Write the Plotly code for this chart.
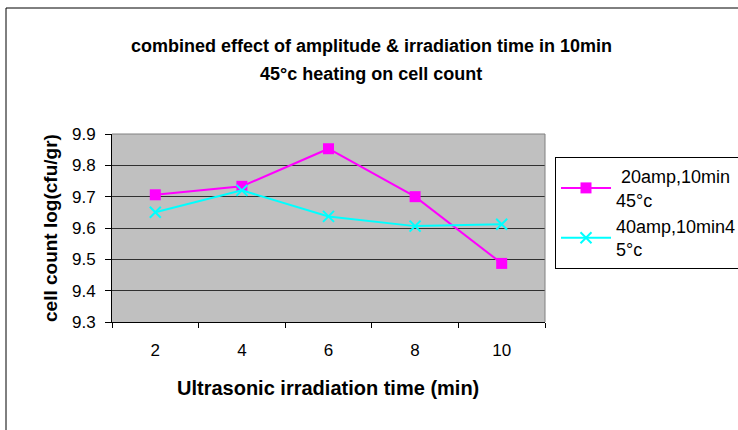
import plotly.graph_objects as go

categories = ["2", "4", "6", "8", "10"]
series_20amp = [9.706, 9.733, 9.853, 9.700, 9.487]
series_40amp = [9.650, 9.720, 9.637, 9.606, 9.612]
name_20amp = " 20amp,10min<br>45°c"
name_40amp = "40amp,10min4<br>5°c"
y_ticks = [9.3, 9.4, 9.5, 9.6, 9.7, 9.8, 9.9]
title_lines = ["combined effect of amplitude &amp; irradiation time in 10min",
               "45°c heating on cell count"]

W, H = 738, 430
L, R, T, B = 112, 545, 134, 322
FONT = "Arial, Liberation Sans, sans-serif"

fig = go.Figure()
fig.add_trace(go.Scatter(
    x=categories, y=series_20amp, name=name_20amp, mode="lines+markers",
    line=dict(color="#FF00FF", width=2),
    marker=dict(symbol="square", size=11, color="#FF00FF"),
))
fig.add_trace(go.Scatter(
    x=categories, y=series_40amp, name=name_40amp, mode="lines+markers",
    line=dict(color="#00FFFF", width=2),
    marker=dict(symbol="x-thin", size=11, line=dict(color="#00FFFF", width=2)),
))

pw, ph = R - L, B - T
def px(x):
    return (x - L) / pw
def py(y):
    return (B - y) / ph

annotations = [
    dict(text="<b>cell count log(cfu/gr)</b>", xref="paper", yref="paper",
         x=px(50), y=py(228), xanchor="center", yanchor="middle",
         textangle=-90, showarrow=False, font=dict(size=19)),
    dict(text="<b>Ultrasonic irradiation time (min)</b>", xref="paper", yref="paper",
         x=px(328), y=py(388), xanchor="center", yanchor="middle",
         showarrow=False, font=dict(size=20)),
]
for i, (line, yy) in enumerate(zip(title_lines, [46, 74])):
    annotations.append(dict(text="<b>" + line + "</b>", xref="paper", yref="paper",
                            x=px(371), y=py(yy), xanchor="center", yanchor="middle",
                            showarrow=False, font=dict(size=18)))

fig.update_layout(
    width=W, height=H,
    margin=dict(l=L, r=W - R, t=T, b=H - B, autoexpand=False),
    paper_bgcolor="white",
    plot_bgcolor="#C0C0C0",
    font=dict(family=FONT, color="black", size=17),
    xaxis=dict(
        type="category", tickson="boundaries", ticks="outside", ticklen=5,
        tickcolor="black", showline=True, linecolor="black", linewidth=1,
        showgrid=False, mirror=False, tickfont=dict(size=17),
        ticklabelstandoff=13,
        range=[-0.5, 4.5],
    ),
    yaxis=dict(
        range=[9.3, 9.9], tickvals=y_ticks, tickformat=".1f",
        ticks="outside", ticklen=6, tickcolor="black",
        showline=True, linecolor="black", linewidth=1,
        showgrid=True, gridcolor="#303030", gridwidth=1,
        zeroline=False, tickfont=dict(size=17), ticklabelstandoff=6,
    ),
    legend=dict(
        x=px(555), y=py(157), xanchor="left", yanchor="top",
        bordercolor="black", borderwidth=1, bgcolor="white",
        font=dict(size=18), tracegroupgap=0, itemwidth=50,
    ),
    showlegend=True,
    annotations=annotations,
    shapes=[
        dict(type="rect", xref="paper", yref="paper",
             x0=px(6), y0=py(440), x1=px(760), y1=py(8),
             line=dict(color="black", width=1), fillcolor="rgba(0,0,0,0)", layer="below"),
        dict(type="line", xref="paper", yref="paper", x0=0, x1=1, y0=1, y1=1,
             line=dict(color="#808080", width=1)),
        dict(type="line", xref="paper", yref="paper", x0=1, x1=1, y0=0, y1=1,
             line=dict(color="#808080", width=1)),
    ],
)

fig.write_html("out.html")
